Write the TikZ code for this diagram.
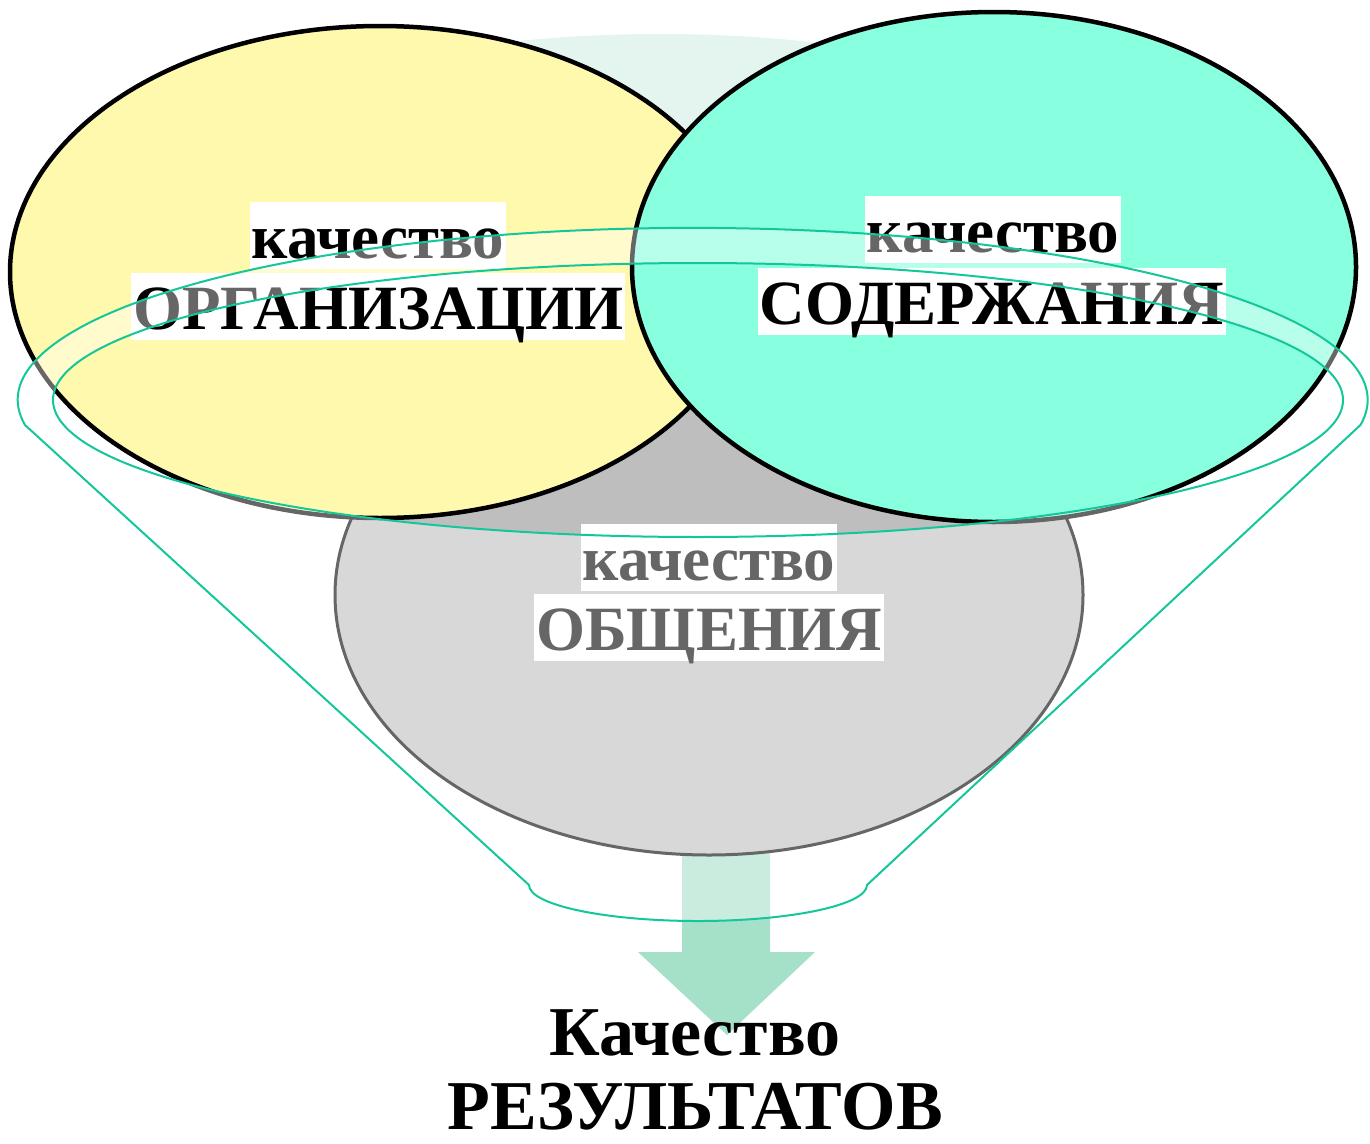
\documentclass[tikz,border=0pt]{standalone}
\usepackage{fontspec}
\setmainfont{Liberation Serif}
\definecolor{orgyellow}{HTML}{FFF9AD}
\definecolor{contcyan}{HTML}{88FFDF}
\definecolor{commgrey}{HTML}{BEBEBE}
\definecolor{flowgreen}{HTML}{A5E0C8}
\definecolor{rimpale}{HTML}{E3F5EE}
\definecolor{funnelteal}{HTML}{14C79A}

\tikzstyle{lbl} = [fill=white, inner xsep=2pt, inner ysep=1pt, text height=55pt, text depth=10pt, anchor=base, font=\fontsize{63}{70}\selectfont\bfseries]
\tikzstyle{bigtitle} = [inner sep=0pt, text height=48pt, text depth=0pt, anchor=base, font=\fontsize{70}{78}\selectfont\bfseries]
\tikzstyle{oval} = [draw=black, line width=4.5pt]
\tikzstyle{funnelline} = [draw=funnelteal, line width=2pt, line join=round]

\begin{document}
\begin{tikzpicture}[x=1pt, y=1pt, yscale=-1]
	\useasboundingbox (0,0) rectangle (1370,1143);

	% back of the rim, seen between the two upper ovals
	\fill[rimpale] (45,300) arc[start angle=180, end angle=360, x radius=615, y radius=266] -- cycle;

	% flow arrow out of the funnel
	\fill[flowgreen] (682,800) -- (770,800) -- (770,952) -- (815,952) -- (727,1035) -- (638,952) -- (682,952) -- cycle;

	% the three qualities
	\draw[oval, fill=commgrey, line width=3pt] (709,595) ellipse [x radius=374, y radius=260];
	\node[lbl] (commtop) at (709,580) {качество};
	\node[lbl] (commbot) at (709,650) {ОБЩЕНИЯ};

	\draw[oval, fill=orgyellow] (380,272) ellipse [x radius=370, y radius=246];
	\node[lbl] (orgtop) at (378,258) {качество};
	\node[lbl] (orgbot) at (378,329) {ОРГАНИЗАЦИИ};

	\draw[oval, fill=contcyan] (994,267) ellipse [x radius=362, y radius=255];
	\node[lbl] (conttop) at (993,252) {качество};
	\node[lbl] (contbot) at (992,324) {СОДЕРЖАНИЯ};

	% funnel: glassy body and rim
	\fill[white, opacity=0.4, even odd rule]
		(25,425) arc[start angle=171.6, end angle=368.4, x radius=675, y radius=172]
		-- (867,885) arc[start angle=0, end angle=180, x radius=169, y radius=36]
		-- cycle
		(698,400) ellipse [x radius=645, y radius=137];
	\draw[funnelline]
		(25,425) arc[start angle=171.6, end angle=368.4, x radius=675, y radius=172]
		-- (867,885) arc[start angle=0, end angle=180, x radius=169, y radius=36]
		-- cycle;
	\draw[funnelline] (698,400) ellipse [x radius=645, y radius=137];

	% result
	\node[bigtitle] (restop) at (695,1055) {Качество};
	\node[bigtitle] (resbot) at (695,1129) {РЕЗУЛЬТАТОВ};
\end{tikzpicture}
\end{document}
